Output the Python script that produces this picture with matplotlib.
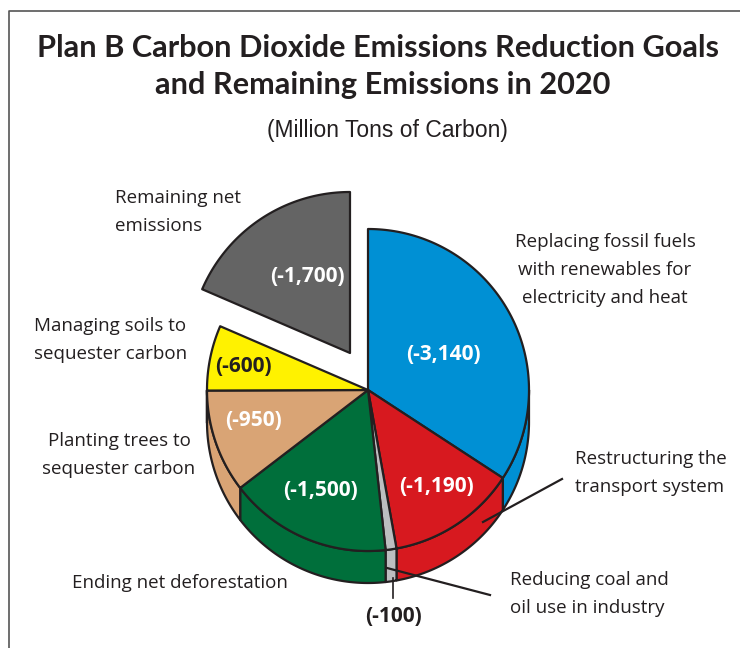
import numpy as np
import matplotlib
matplotlib.use("Agg")
import matplotlib.pyplot as plt
from matplotlib.patches import Polygon

# data: reduction goals and remaining emissions (million tons of carbon)
categories = [
    "Replacing fossil fuels\nwith renewables for\nelectricity and heat",
    "Restructuring the\ntransport system",
    "Reducing coal and\noil use in industry",
    "Ending net deforestation",
    "Planting trees to\nsequester carbon",
    "Managing soils to\nsequester carbon",
    "Remaining net\nemissions",
]
values = [3140, 1190, 100, 1500, 950, 600, 1700]
value_labels = ["(-3,140)", "(-1,190)", "(-100)", "(-1,500)", "(-950)", "(-600)", "(-1,700)"]
colors = ["#0090d4", "#d7191f", "#bcbec0", "#006f3b", "#d9a475", "#fff200", "#646464"]
exploded = [False, False, False, False, False, False, True]

# geometry (pixels, y down)
CX, CY, R, DEPTH = 368, 390, 161, 32
EXPLODE_VEC = (-18, -37)
INK = "#231f20"

fig = plt.figure(figsize=(7.4, 6.48), dpi=100)
ax = fig.add_axes([0, 0, 1, 1])
ax.set_xlim(0, 740)
ax.set_ylim(648, 0)
ax.axis("off")

# frame
ax.plot([9, 9, 740], [648, 11, 11], color="#555555", lw=1.2, solid_capstyle="butt")


def arc(t1, t2, cx, cy, n=120):
    t = np.radians(np.linspace(t1, t2, n))
    return np.column_stack([cx + R * np.cos(t), cy - R * np.sin(t)])


total = sum(values)
angles = []
start = 90.0
for v in values:
    end = start - v / total * 360.0
    angles.append((start, end))
    start = end

# side walls (only lower half is visible)
for (t1, t2), col, ex in zip(angles, colors, exploded):
    if ex:
        continue
    a, b = min(t1, 0.0), max(t2, -180.0)
    if a <= b:
        continue
    top = arc(a, b, CX, CY)
    bot = arc(b, a, CX, CY + DEPTH)
    ax.add_patch(Polygon(np.vstack([top, bot]), closed=True, facecolor=col,
                         edgecolor=INK, lw=1.6, joinstyle="round"))

# top faces
for (t1, t2), col, ex in zip(angles, colors, exploded):
    cx, cy = CX, CY
    if ex:
        cx, cy = CX + EXPLODE_VEC[0], CY + EXPLODE_VEC[1]
    pts = np.vstack([[cx, cy], arc(t1, t2, cx, cy)])
    ax.add_patch(Polygon(pts, closed=True, facecolor=col, edgecolor=INK,
                         lw=1.6, joinstyle="round"))

# title, sized so the first line spans the same width as the reference
t1 = ax.text(378, 48, "Plan B Carbon Dioxide Emissions Reduction Goals",
             ha="center", va="center", fontsize=20, fontweight="bold",
             family="Lato", color=INK)
t2 = ax.text(383, 85, "and Remaining Emissions in 2020",
             ha="center", va="center", fontsize=20, fontweight="bold",
             family="Lato", color=INK)
fig.canvas.draw()
w = t1.get_window_extent().width
size = 20 * 683 / w
t1.set_fontsize(size)
t2.set_fontsize(size)

ax.text(387, 131, "(Million Tons of Carbon)", ha="center", va="center",
        fontsize=16.5, family="Liberation Sans", color=INK)

# value labels on the wedges
val_pos = [(443, 355), (437, 486), (393, 616), (320, 490), (253, 420), (243, 367), (307, 276)]
val_col = ["white", "white", INK, "white", "white", INK, "white"]
for lab, (x, y), c in zip(value_labels, val_pos, val_col):
    ax.text(x, y, lab, ha="center", va="center", fontsize=15, fontweight="bold",
            family="Open Sans", color=c)

# category labels
cat_pos = [(605, 270, "center"), (575, 473, "left"), (510, 594, "left"),
           (72, 583, "left"), (119, 455, "center"), (34, 340, "left"), (115, 212, "left")]
for lab, (x, y, ha) in zip(categories, cat_pos):
    ax.text(x, y, lab, ha=ha, va="center", fontsize=13.5, family="Open Sans",
            color=INK, linespacing=1.72, multialignment=ha)

# leader lines
ax.plot([483, 562], [522, 479], color=INK, lw=1.6)
ax.plot([387, 490], [568, 595], color=INK, lw=1.6)
ax.plot([393, 393], [578, 598], color=INK, lw=1.2)

fig.savefig("out.png", dpi=100)
